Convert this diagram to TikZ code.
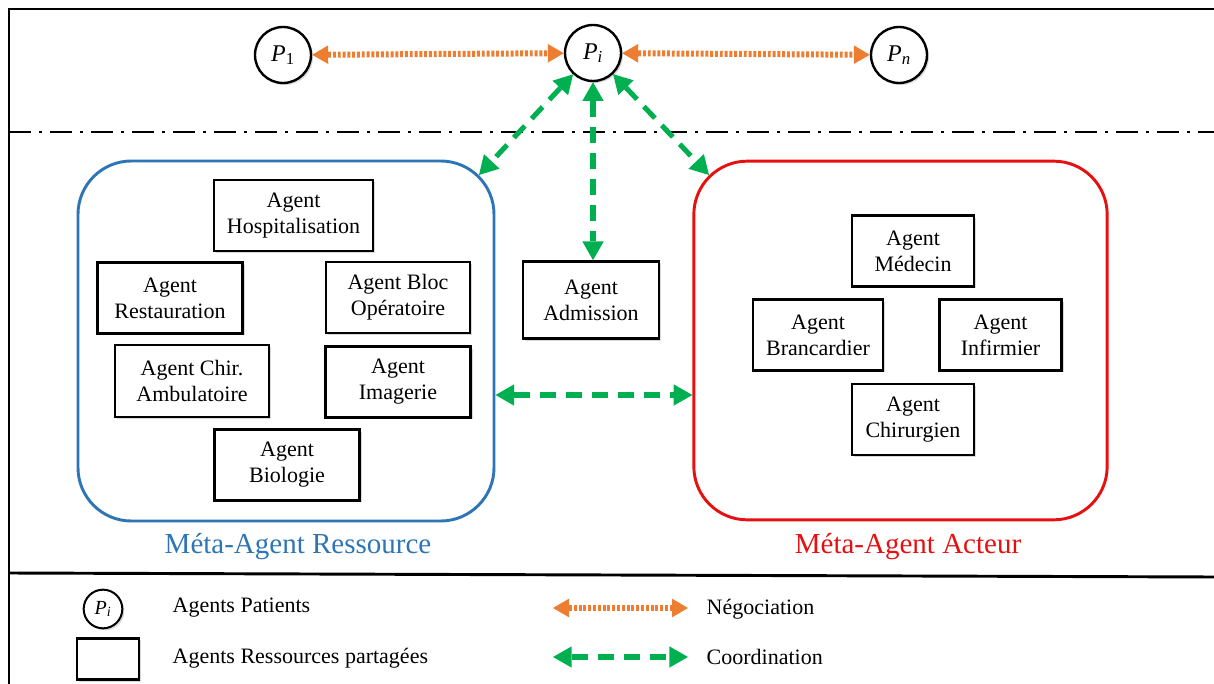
\documentclass[tikz,border=0pt]{standalone}
\usepackage{fontspec}
\setmainfont{Liberation Serif}
\usepackage{tikz}
\usepackage{amsmath}
\usetikzlibrary{arrows.meta,shadows}
\definecolor{bleuM}{RGB}{46,117,182}
\definecolor{rougeM}{RGB}{230,16,16}
\definecolor{orangeN}{RGB}{237,125,49}
\definecolor{vertC}{RGB}{0,176,80}
\newcommand{\patient}[1]{\textit{P}\textsubscript{#1}}
\tikzset{
  agnode/.style = {align=center, inner sep=0pt, text centered,
    font=\fontsize{16.5}{19.5}\selectfont},
  ag_p/.style = {agnode, circle, draw=black, line width=1.8pt,
    fill=white, minimum size=42pt, font=\fontsize{18}{20}\selectfont,
    drop shadow={shadow xshift=1.5pt, shadow yshift=-1.5pt, opacity=0.3}},% agent patient
  ag_r/.style = {agnode, rectangle, draw=black, line width=1.8pt,
    fill=white, minimum height=53pt,
    drop shadow={shadow xshift=1.5pt, shadow yshift=-1.5pt, opacity=0.3}},% agent ressource
  meta_r/.style = {rectangle, rounded corners=40pt, draw=bleuM,
    line width=2.2pt, minimum width=312pt, minimum height=270pt},% meta-agent ressource
  meta_a/.style = {rectangle, rounded corners=40pt, draw=rougeM,
    line width=2.2pt, minimum width=310pt, minimum height=269pt},% meta-agent acteur
  meta_lab/.style = {font=\fontsize{21.75}{26}\selectfont},
  leg_t/.style = {anchor=west, font=\fontsize{16.5}{19.5}\selectfont},
  nego/.style = {orangeN, line width=4.5pt, dash pattern=on 2.2pt off 1.4pt,
    {Triangle[length=12pt, width=14pt, line width=0pt]}-{Triangle[length=12pt, width=14pt, line width=0pt]}},% negociation
  coord_c/.style = {vertC, line width=3.8pt, dash pattern=on 12pt off 7.5pt,
    {Triangle[length=14pt, width=16pt, line width=0pt]}-{Triangle[length=14pt, width=16pt, line width=0pt]}}% coordination
}

\begin{document}
\begin{tikzpicture}[x=0.75pt, y=-0.75pt]
  \useasboundingbox (0,0) rectangle (1214,684);
  % cadre et separations
  \draw[line width=2pt] (9,684) -- (9,9) -- (1214,9);
  \draw[line width=2pt, dash pattern=on 16.5pt off 6pt on 2.25pt off 6pt] (9,132) -- (1214,132);
  \draw[line width=2.2pt] (9,573) -- (1214,577);

  % agents patients
  \node [ag_p] (P1) at (283,55) {\patient{1}};
  \node [ag_p] (Pi) at (593,53) {\patient{\textit{i}}};
  \node [ag_p] (Pn) at (899,55) {\patient{\textit{n}}};

  % meta-agents
  \node [meta_r] (ressource) at (286,341) {};
  \node [meta_a] (acteur) at (900.5,340.5) {};
  \node [meta_lab, text=bleuM] (lab_r) at (298,547) {Méta-Agent Ressource};
  \node [meta_lab, text=rougeM] (lab_a) at (908,547) {Méta-Agent Acteur};

  \node [ag_r, minimum width=119pt] (hosp) at (293.5,215.5) {Agent\\Hospitalisation};
  \node [ag_r, minimum width=109pt] (resto) at (170,298) {Agent\\Restauration};
  \node [ag_r, minimum width=108pt] (bloc) at (398,297.5) {Agent Bloc\\Opératoire};
  \node [ag_r, minimum width=115.5pt, minimum height=54pt] (chir) at (192,381) {Agent Chir.\\Ambulatoire};
  \node [ag_r, minimum width=109pt] (imag) at (398,382) {Agent\\Imagerie};
  \node [ag_r, minimum width=109pt] (bio) at (287,465) {Agent\\Biologie};

  \node [ag_r, minimum width=91.5pt] (medecin) at (913,251) {Agent\\Médecin};
  \node [ag_r, minimum width=97.5pt] (branc) at (818,335) {Agent\\Brancardier};
  \node [ag_r, minimum width=91.5pt] (infir) at (1000.5,335) {Agent\\Infirmier};
  \node [ag_r, minimum width=91.5pt] (chirurg) at (913,419.5) {Agent\\Chirurgien};

  \node [ag_r, minimum width=102pt, minimum height=58pt] (admission) at (591,300) {Agent\\Admission};

  % liens
  \coordinate (resNE) at (479,175);
  \coordinate (actNW) at (709,175);
  \draw [nego] (P1) -- (Pi);
  \draw [nego] (Pi) -- (Pn);
  \draw [coord_c] (Pi) -- (resNE);
  \draw [coord_c] (Pi) -- (actNW);
  \draw [coord_c] (Pi.south) -- (Pi.south |- admission.north);
  \draw [coord_c] ([yshift=-40.5pt]ressource.east) -- ([yshift=-40.5pt]ressource.east -| acteur.west);

  % legende
  \node [ag_p, minimum size=29pt, line width=1.5pt, font=\fontsize{15}{17}\selectfont] (leg_p) at (103,609) {\patient{\textit{i}}};
  \node [ag_r, minimum width=46.5pt, minimum height=31pt] (leg_r) at (108,659) {};
  \node [leg_t] (t_pat) at (168,608) {Agents Patients};
  \node [leg_t] (t_res) at (168,658) {Agents Ressources partagées};
  \coordinate (neg_a) at (553,608);
  \coordinate (neg_b) at (688,608);
  \coordinate (coo_a) at (553,657);
  \coordinate (coo_b) at (688,657);
  \draw [nego] (neg_a) -- (neg_b);
  \draw [coord_c] (coo_a) -- (coo_b);
  \node [leg_t] (t_neg) at (702,609) {Négociation};
  \node [leg_t] (t_coo) at (702,657) {Coordination};
\end{tikzpicture}
\end{document}
